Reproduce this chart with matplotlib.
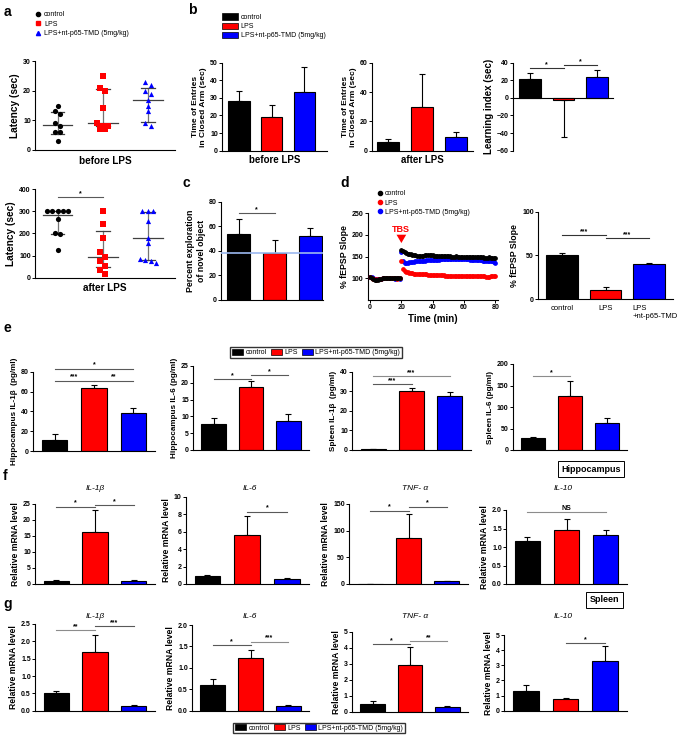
import numpy as np
import matplotlib.pyplot as plt
from matplotlib.patches import Patch
from matplotlib.lines import Line2D

plt.rcParams['font.family'] = ['Liberation Sans', 'DejaVu Sans']
plt.rcParams['font.weight'] = 'bold'
plt.rcParams['axes.labelweight'] = 'bold'
plt.rcParams['axes.linewidth'] = 0.8

W, H = 685, 737
RED = '#ff0000'
BLUE = '#0000ff'
COLORS = ['black', RED, BLUE]
GROUPS = ['control', 'LPS', 'LPS+nt-p65-TMD (5mg/kg)']

# ---- panel a : passive avoidance latency (individual animals)
a_before = [[15, 13, 12, 9, 8, 6, 6, 3],
            [25, 21, 20, 14, 9, 8, 8, 7, 7],
            [23, 22, 20, 19, 17, 15, 13, 9, 8]]
a_before_mid = [8.5, 9, 17]
a_before_low = [5.3, 8, 9.5]
a_before_high = [12.8, 20.5, 21]

a_after = [[300, 300, 300, 300, 300, 265, 200, 195, 125],
           [300, 240, 180, 115, 95, 75, 55, 35, 15],
           [300, 300, 300, 255, 180, 155, 85, 80, 75, 65]]
a_after_mid = [282, 95, 181]
a_after_low = [195, 47, 82]
a_after_high = [300, 210, 297]

# ---- panel b : elevated plus maze
b_before = [28.5, 19, 33.5]
b_before_err = [5.3, 7, 14]
b_after = [6, 30, 9.5]
b_after_err = [2, 22, 3]
b_learn = [22, -2, 24]
b_learn_err = [6.5, 42, 8]

# ---- panel c : novel object
c_vals = [53.5, 38, 52]
c_err = [12.5, 11, 7]

# ---- panel d : LTP time course
d_base_t = list(range(0, 20))
d_post_t = list(range(20, 81))
d_ctrl_base = [102, 100, 98, 97, 96, 97, 98, 99, 100, 100, 101, 101, 100, 101, 101, 100, 100, 100, 101, 100]
d_lps_base = [103, 101, 99, 98, 97, 98, 98, 99, 100, 101, 100, 100, 101, 100, 100, 101, 100, 99, 100, 100]
d_tmd_base = [104, 102, 100, 99, 98, 98, 99, 99, 100, 100, 101, 100, 100, 101, 100, 100, 99, 100, 100, 99]
d_ctrl_post = [165, 163, 161, 159, 157, 156, 155, 154, 153, 153, 152,
               152, 151, 151, 152, 153, 153, 154, 154, 153, 153,
               152, 152, 152, 151, 151, 151, 152, 152, 151, 151,
               151, 150, 150, 150, 151, 150, 150, 150, 149, 149,
               149, 150, 150, 149, 149, 149, 150, 149, 149, 149,
               149, 149, 148, 148, 148, 149, 148, 148, 147, 146]
d_tmd_post = [160, 140, 136, 135, 136, 137, 137, 138, 138, 139, 139,
              140, 140, 141, 141, 141, 142, 142, 142, 142, 143,
              143, 143, 143, 143, 144, 144, 144, 144, 144, 144,
              144, 144, 144, 145, 145, 145, 145, 145, 145, 144,
              144, 144, 144, 143, 143, 143, 143, 142, 142, 142,
              142, 141, 141, 141, 141, 140, 140, 139, 138, 135]
d_lps_post = [140, 122, 117, 115, 114, 113, 112, 112, 111, 111, 110,
              110, 110, 109, 109, 109, 109, 108, 108, 108, 108,
              108, 107, 107, 107, 107, 107, 107, 106, 106, 106,
              106, 106, 106, 106, 106, 106, 105, 105, 105, 105,
              105, 105, 105, 105, 105, 105, 105, 105, 105, 105,
              105, 105, 105, 104, 104, 104, 105, 105, 105, 105]
d_sem = [4, 2.5, 3]
d_bar = [50, 11, 40]
d_bar_err = [3, 3, 2]
d_bar_labels = ['control', 'LPS', 'LPS\n+nt-p65-TMD']

# ---- panel e : cytokines (ELISA)
e_hip_il1b = [11.5, 63.5, 38]
e_hip_il1b_err = [5.5, 3, 5]
e_hip_il6 = [7.7, 18.7, 8.6]
e_hip_il6_err = [1.8, 1.7, 2]
e_spl_il1b = [0.3, 30, 27.5]
e_spl_il1b_err = [0.1, 1.8, 2.2]
e_spl_il6 = [29, 125, 62]
e_spl_il6_err = [1, 35, 12]

# ---- panel f : hippocampus mRNA
f_il1b = [1.0, 16.3, 1.0]
f_il1b_err = [0.2, 6.8, 0.2]
f_il6 = [0.95, 5.6, 0.6]
f_il6_err = [0.05, 2.2, 0.05]
f_tnf = [0.5, 86, 5]
f_tnf_err = [0.2, 45, 1]
f_il10 = [1.15, 1.45, 1.33]
f_il10_err = [0.12, 0.32, 0.13]

# ---- panel g : spleen mRNA
g_il1b = [0.52, 1.7, 0.13]
g_il1b_err = [0.04, 0.48, 0.02]
g_il6 = [0.6, 1.22, 0.11]
g_il6_err = [0.13, 0.2, 0.02]
g_tnf = [0.5, 2.9, 0.28]
g_tnf_err = [0.15, 1.15, 0.05]
g_il10 = [1.32, 0.78, 3.3]
g_il10_err = [0.35, 0.06, 1.0]

fig = plt.figure(figsize=(W / 100, H / 100), dpi=100)


def add_ax(left, top, right, bottom):
    ax = fig.add_axes([left / W, 1 - bottom / H, (right - left) / W, (bottom - top) / H])
    ax.spines['top'].set_visible(False)
    ax.spines['right'].set_visible(False)
    ax.tick_params(labelsize=5, width=0.7, length=2, pad=1)
    ax.patch.set_alpha(0)
    return ax


def ftext(x, y, s, **kw):
    fig.text(x / W, 1 - y / H, s, **kw)


def sig(ax, x1, x2, y, s, color='0.35'):
    ax.plot([x1, x2], [y, y], color=color, lw=0.8, clip_on=False)
    ax.text((x1 + x2) / 2, y, s, ha='center', va='bottom', fontsize=5, clip_on=False)


def bar_panel(ax, vals, errs, ylim, yticks, ylabel, fs=5.9, width=0.65, xlim=(-0.55, 2.55), fmt=None):
    x = np.arange(len(vals))
    ax.bar(x, vals, width=width, color=COLORS, edgecolor='black', linewidth=0.8, zorder=2)
    lower = [e if v < 0 else 0 for v, e in zip(vals, errs)]
    upper = [0 if v < 0 else e for v, e in zip(vals, errs)]
    ax.errorbar(x, vals, yerr=[lower, upper], fmt='none', ecolor='black',
                elinewidth=0.8, capsize=2.5, capthick=0.8, zorder=1)
    ax.set_xlim(*xlim)
    ax.set_ylim(*ylim)
    ax.set_yticks(yticks)
    if fmt:
        ax.set_yticklabels([fmt % t for t in yticks])
    ax.set_xticks([])
    ax.set_ylabel(ylabel, fontsize=fs, labelpad=2)


def swarm(vals, tol, step=0.12):
    order = np.argsort(vals)[::-1]
    offs = np.zeros(len(vals))
    i = 0
    while i < len(order):
        j = i
        while j + 1 < len(order) and vals[order[i]] - vals[order[j + 1]] <= tol:
            j += 1
        n = j - i + 1
        for k in range(n):
            offs[order[i + k]] = (k - (n - 1) / 2) * step
        i = j + 1
    return offs


def scatter_panel(ax, groups, mid, low, high, tol, ylim, yticks, xlabel):
    markers = ['o', 's', '^']
    for g, vals in enumerate(groups):
        offs = swarm(vals, tol)
        ax.scatter(g + offs, vals, marker=markers[g], s=14, color=COLORS[g], zorder=3, lw=0)
        ax.plot([g - 0.33, g + 0.33], [mid[g], mid[g]], color='0.25', lw=0.9, zorder=2)
        ax.plot([g - 0.15, g + 0.15], [low[g], low[g]], color='0.25', lw=0.9, zorder=2)
        ax.plot([g - 0.15, g + 0.15], [high[g], high[g]], color='0.25', lw=0.9, zorder=2)
        ax.plot([g, g], [low[g], high[g]], color='0.45', lw=0.9, zorder=1)
    ax.set_xlim(-0.5, 2.6)
    ax.set_ylim(*ylim)
    ax.set_yticks(yticks)
    ax.set_xticks([])
    ax.set_xlabel(xlabel, fontsize=7.2, labelpad=4)
    ax.set_ylabel('Latency (sec)', fontsize=7.3, labelpad=2)


# panel a
ax = add_ax(35, 61, 175, 150)
scatter_panel(ax, a_before, a_before_mid, a_before_low, a_before_high, 1.8,
              (0, 30), [0, 10, 20, 30], 'before LPS')
ax = add_ax(35, 189, 175, 277.7)
scatter_panel(ax, a_after, a_after_mid, a_after_low, a_after_high, 22,
              (0, 400), [0, 100, 200, 300, 400], 'after LPS')
sig(ax, 0, 1, 362, '*')

h_a = [Line2D([], [], marker=m, color=c, ls='none', ms=3) for m, c in zip(['o', 's', '^'], COLORS)]
fig.legend(h_a, GROUPS, loc='upper left', bbox_to_anchor=(30 / W, 1 - 8 / H), frameon=False,
           prop={'size': 5, 'weight': 'normal'}, handletextpad=0.3, labelspacing=0.35,
           borderpad=0, handlelength=1.2)

# panel b
ax = add_ax(222, 62.7, 327, 150.7)
bar_panel(ax, b_before, b_before_err, (0, 50), [0, 10, 20, 30, 40, 50],
          'Time of Entries\nin Closed Arm (sec)', fs=6, xlim=(-0.52, 2.7))
ax.set_xlabel('before LPS', fontsize=7, labelpad=3)
ax = add_ax(372, 62.7, 473, 150.7)
bar_panel(ax, b_after, b_after_err, (0, 60), [0, 20, 40, 60],
          'Time of Entries\nin Closed Arm (sec)', fs=6, xlim=(-0.47, 2.5))
ax.set_xlabel('after LPS', fontsize=7, labelpad=3)
ax = add_ax(513, 62.7, 613, 150.7)
bar_panel(ax, b_learn, b_learn_err, (-60, 40), [-60, -40, -20, 0, 20, 40],
          'Learning index (sec)', fs=7, xlim=(-0.5, 2.47))
ax.spines['bottom'].set_position(('data', 0))
sig(ax, 0, 1, 34, '*', color='0.2')
sig(ax, 1, 2, 37, '*', color='0.2')

h_b = [Patch(facecolor=c, edgecolor='black', lw=0.5) for c in COLORS]
fig.legend(h_b, GROUPS, loc='upper left', bbox_to_anchor=(219 / W, 1 - 10 / H), frameon=False,
           prop={'size': 5, 'weight': 'normal'}, handletextpad=0.4, labelspacing=0.2,
           borderpad=0, handlelength=2.2, handleheight=1.1)

# panel c
ax = add_ax(220.7, 201.7, 323, 300)
bar_panel(ax, c_vals, c_err, (0, 80), [0, 20, 40, 60, 80],
          'Percent exploration\nof novel object', fs=6.3, xlim=(-0.5, 2.35))
ax.axhline(38, color='#9bb8f0', lw=1.2, zorder=3)
sig(ax, 0, 1, 71, '*')

# panel d
ax = add_ax(367.7, 213.3, 498, 300)
series = [(d_ctrl_base, d_ctrl_post), (d_lps_base, d_lps_post), (d_tmd_base, d_tmd_post)]
for k in [1, 2, 0]:
    base, post = series[k]
    ax.errorbar(d_base_t + d_post_t, base + post, yerr=d_sem[k], fmt='o', ms=2.4,
                color=COLORS[k], ecolor=COLORS[k], elinewidth=0.5, capsize=0, zorder=3 - k * 0.1)
ax.set_xlim(-1.5, 81.7)
ax.set_ylim(50, 250)
ax.set_yticks([100, 150, 200, 250])
ax.set_xticks([0, 20, 40, 60, 80])
ax.set_xlabel('Time (min)', fontsize=7, labelpad=2)
ax.set_ylabel('% fEPSP Slope', fontsize=6.3, labelpad=2)
ax.text(20, 203, 'TBS', color=RED, fontsize=6.5, ha='center', va='bottom')
ax.annotate('', xy=(20, 175), xytext=(20, 201),
            arrowprops=dict(arrowstyle='simple,head_width=0.7,head_length=0.6,tail_width=0.35',
                            color=RED, lw=0))

h_d = [Line2D([], [], marker='o', color=c, ls='none', ms=3) for c in COLORS]
fig.legend(h_d, GROUPS, loc='upper left', bbox_to_anchor=(373 / W, 1 - 187 / H), frameon=False,
           prop={'size': 5, 'weight': 'normal'}, handletextpad=0.2, labelspacing=0.3,
           borderpad=0, handlelength=1.0)

ax = add_ax(538, 211.7, 673, 299.3)
bar_panel(ax, d_bar, d_bar_err, (0, 100), [0, 50, 100], '% fEPSP Slope', fs=6.3, width=0.72)
xform = ax.get_xaxis_transform()
ax.text(0, -0.07, d_bar_labels[0], transform=xform, fontsize=5.5, fontweight='normal', ha='center', va='top')
ax.text(1, -0.07, d_bar_labels[1], transform=xform, fontsize=5.5, fontweight='normal', ha='center', va='top')
ax.text(1.62, -0.07, d_bar_labels[2], transform=xform, fontsize=5.5, fontweight='normal', ha='left', va='top')
sig(ax, 0, 1, 73, '***', color='0.2')
sig(ax, 1, 2, 69.5, '***', color='0.2')

# panel e
ax = add_ax(33, 371.7, 155, 451)
bar_panel(ax, e_hip_il1b, e_hip_il1b_err, (0, 80), [0, 20, 40, 60, 80], 'Hippocampus IL-1β  (pg/ml)')
sig(ax, 0, 1, 71, '***')
sig(ax, 1, 2, 71, '**')
sig(ax, 0, 2, 83, '*')
ax = add_ax(193, 366, 309, 450)
bar_panel(ax, e_hip_il6, e_hip_il6_err, (0, 25), [0, 5, 10, 15, 20, 25], 'Hippocampus IL-6 (pg/ml)')
sig(ax, 0, 1, 21.1, '*')
sig(ax, 1, 2, 22.3, '*')
ax = add_ax(352, 371.7, 471, 450)
bar_panel(ax, e_spl_il1b, e_spl_il1b_err, (0, 40), [0, 10, 20, 30, 40], 'Spleen IL-1β  (pg/ml)')
sig(ax, 0, 1, 33.7, '***')
sig(ax, 0, 2, 37.8, '***', color='0.55')
ax = add_ax(512.6, 364, 627, 450)
bar_panel(ax, e_spl_il6, e_spl_il6_err, (0, 200), [0, 50, 100, 150, 200], 'Spleen IL-6 (pg/ml)')
sig(ax, 0, 1, 172, '*', color='0.55')

fig.legend(h_b, GROUPS, loc='center', bbox_to_anchor=(316 / W, 1 - 352.5 / H), ncol=3,
           frameon=True, fancybox=False, edgecolor='black',
           prop={'size': 5, 'weight': 'normal'}, handletextpad=0.3, columnspacing=0.6,
           borderpad=0.25, handlelength=1.6, handleheight=0.9)

ftext(591, 469, 'Hippocampus', fontsize=6.5, ha='center', va='center',
      bbox=dict(facecolor='white', edgecolor='black', lw=0.7, pad=2.5))
ftext(604.5, 600, 'Spleen', fontsize=6.5, ha='center', va='center',
      bbox=dict(facecolor='white', edgecolor='black', lw=0.7, pad=2.5))

# panel f
ax = add_ax(35, 504, 155, 584)
bar_panel(ax, f_il1b, f_il1b_err, (0, 25), [0, 5, 10, 15, 20, 25], 'Relative mRNA level', fs=6.2)
sig(ax, 0, 1, 24.2, '*')
sig(ax, 1, 2, 24.7, '*')
ax = add_ax(185.6, 496.7, 309, 584)
bar_panel(ax, f_il6, f_il6_err, (0, 10), [0, 2, 4, 6, 8, 10], 'Relative mRNA level', fs=6.2)
sig(ax, 1, 2, 8.3, '*')
ax = add_ax(349, 504, 468, 584)
bar_panel(ax, f_tnf, f_tnf_err, (0, 150), [0, 50, 100, 150], 'Relative mRNA level', fs=6.2)
sig(ax, 0, 1, 137.5, '*')
sig(ax, 1, 2, 145, '*')
ax = add_ax(506, 510, 627, 584)
bar_panel(ax, f_il10, f_il10_err, (0, 2.0), [0, 0.5, 1.0, 1.5, 2.0], 'Relative mRNA level', fs=6.2, fmt='%.1f')
sig(ax, 0, 2, 1.955, 'NS', color='0.55')

# panel g
ax = add_ax(35, 624, 155, 710.7)
bar_panel(ax, g_il1b, g_il1b_err, (0, 2.5), [0, 0.5, 1.0, 1.5, 2.0, 2.5], 'Relative mRNA level', fs=6.2, fmt='%.1f')
sig(ax, 0, 1, 2.32, '**', color='0.55')
sig(ax, 1, 2, 2.43, '***')
ax = add_ax(192, 625, 309, 710.7)
bar_panel(ax, g_il6, g_il6_err, (0, 2.0), [0, 0.5, 1.0, 1.5, 2.0], 'Relative mRNA level', fs=6.2, fmt='%.1f')
sig(ax, 0, 1, 1.53, '*')
sig(ax, 1, 2, 1.61, '***', color='0.55')
ax = add_ax(352, 631.7, 468, 711.7)
bar_panel(ax, g_tnf, g_tnf_err, (0, 5), [0, 1, 2, 3, 4, 5], 'Relative mRNA level', fs=6.2)
sig(ax, 0, 1, 4.23, '*')
sig(ax, 1, 2, 4.42, '**', color='0.55')
ax = add_ax(504, 635, 627, 710.7)
bar_panel(ax, g_il10, g_il10_err, (0, 5), [0, 1, 2, 3, 4, 5], 'Relative mRNA level', fs=6.2)
sig(ax, 1, 2, 4.45, '*')

fig.legend(h_b, GROUPS, loc='center', bbox_to_anchor=(319 / W, 1 - 728 / H), ncol=3,
           frameon=True, fancybox=False, edgecolor='black',
           prop={'size': 5, 'weight': 'normal'}, handletextpad=0.3, columnspacing=0.6,
           borderpad=0.25, handlelength=1.6, handleheight=0.9)

# gene titles
for (x, t) in zip([95, 250, 415, 563], ['IL-1β', 'IL-6', 'TNF- α', 'IL-10']):
    ftext(x, 488, t, fontsize=6, style='italic', fontweight='normal', ha='center', va='center')
    ftext(x, 616, t, fontsize=6, style='italic', fontweight='normal', ha='center', va='center')

# panel letters
for (x, y, s) in [(4, 12, 'a'), (188, 10, 'b'), (183, 183, 'c'), (340, 183, 'd'),
                  (3, 328, 'e'), (3, 476, 'f'), (3, 604, 'g')]:
    ftext(x, y, s, fontsize=10, ha='left', va='center')

fig.savefig('out.png', dpi=100)
